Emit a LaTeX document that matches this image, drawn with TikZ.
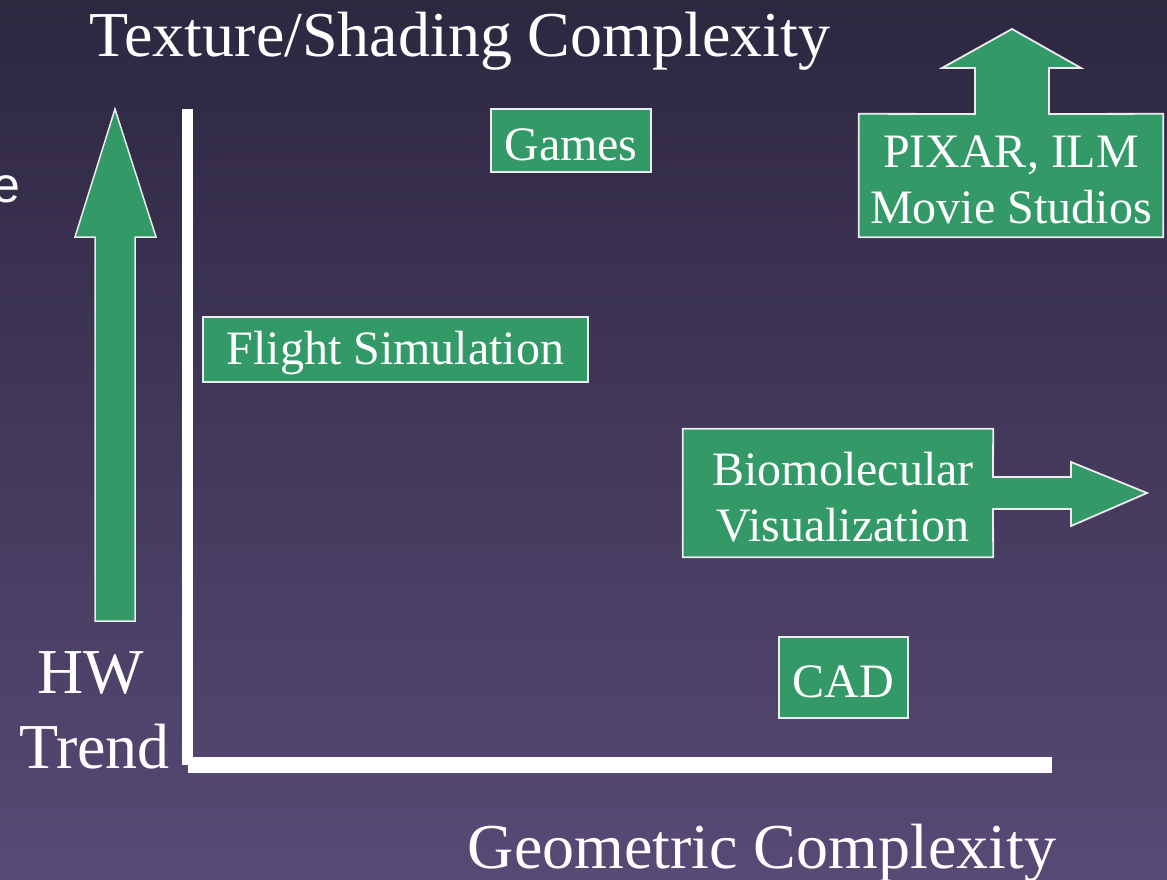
\documentclass[tikz,border=0pt]{standalone}
\usepackage{fontspec}
\setmainfont{Liberation Serif}
\newfontfamily\sansfnt{Liberation Sans}
\definecolor{bgtop}{RGB}{45,39,64}
\definecolor{bgbot}{RGB}{87,74,117}
\definecolor{boxgreen}{RGB}{51,153,102}
\definecolor{edgewhite}{RGB}{235,235,240}
\begin{document}
\begin{tikzpicture}[x=1pt,y=-1pt,
  greenbox/.style={fill=boxgreen,draw=edgewhite,line width=1.8pt},
  boxnode/.style={inner sep=0pt},
  boxtext/.style={inner sep=0pt,text=white,align=center,yshift=-4pt,font=\fontsize{48}{56}\selectfont},
  bigtext/.style={anchor=base,text=white,inner sep=0pt,font=\fontsize{64}{70}\selectfont},
  axisbar/.style={fill=white,draw=none}]
\useasboundingbox (0,0) rectangle (1167,880);
\shade[top color=bgtop,bottom color=bgbot] (0,0) rectangle (1167,880);

% axes
\fill[axisbar] (182,109) rectangle (193,765);
\fill[axisbar] (188,757) rectangle (1052,773);

% HW trend arrow
\draw[greenbox,line width=1.5pt,line join=miter] (95,621) -- (95,237) -- (75,237) -- (115,109) -- (156,237) -- (135,237) -- (135,621) -- cycle;

% boxes
\node[greenbox,boxnode,minimum width=160pt,minimum height=63pt] (games) at (571,140.5) {};
\node[boxtext] (gamestext) at (games.center) {Games};
\node[greenbox,boxnode,minimum width=385pt,minimum height=65pt] (flight) at (395.5,349.5) {};
\node[boxtext] (flighttext) at (flight.center) {Flight Simulation};
\node[greenbox,boxnode,minimum width=129pt,minimum height=81pt] (cad) at (843.5,677.5) {};
\node[boxtext] (cadtext) at (cad.center) {CAD};

% PIXAR box with upward arrow
\node[boxnode,minimum width=304pt,minimum height=123pt] (pixar) at (1011,175.5) {};
\draw[greenbox,line join=miter] (pixar.north west) -- (975,114) -- (975,68) -- (942,68) -- (1012,29) -- (1081,68) -- (1049,68) -- (1049,114) -- (pixar.north east) -- (pixar.south east) -- (pixar.south west) -- cycle;
\node[boxtext] (pixartext) at (pixar.center) {PIXAR, ILM\\Movie Studios};

% Biomolecular box with right arrow
\node[boxnode,minimum width=310pt,minimum height=128pt] (bio) at (838,493) {};
\draw[greenbox,line join=miter] (bio.north west) -- (bio.north east) -- (993,477) -- (1071,477) -- (1071,462) -- (1147,493) -- (1071,526) -- (1071,509) -- (993,509) -- (bio.south east) -- (bio.south west) -- cycle;
\node[boxtext,xshift=5pt] (biotext) at (bio.center) {Biomolecular\\Visualization};

% labels
\node[bigtext] (title) at (460,57) {Texture/Shading Complexity};
\node[bigtext] (xlabel) at (762,868) {Geometric Complexity};
\node[bigtext] (hw) at (91,693) {HW};
\node[bigtext] (trend) at (94.5,768) {Trend};
\node[anchor=base east,text=white,inner sep=0pt,font=\sansfnt\fontsize{50}{60}\selectfont] (stray) at (21,202) {e};
\end{tikzpicture}
\end{document}
